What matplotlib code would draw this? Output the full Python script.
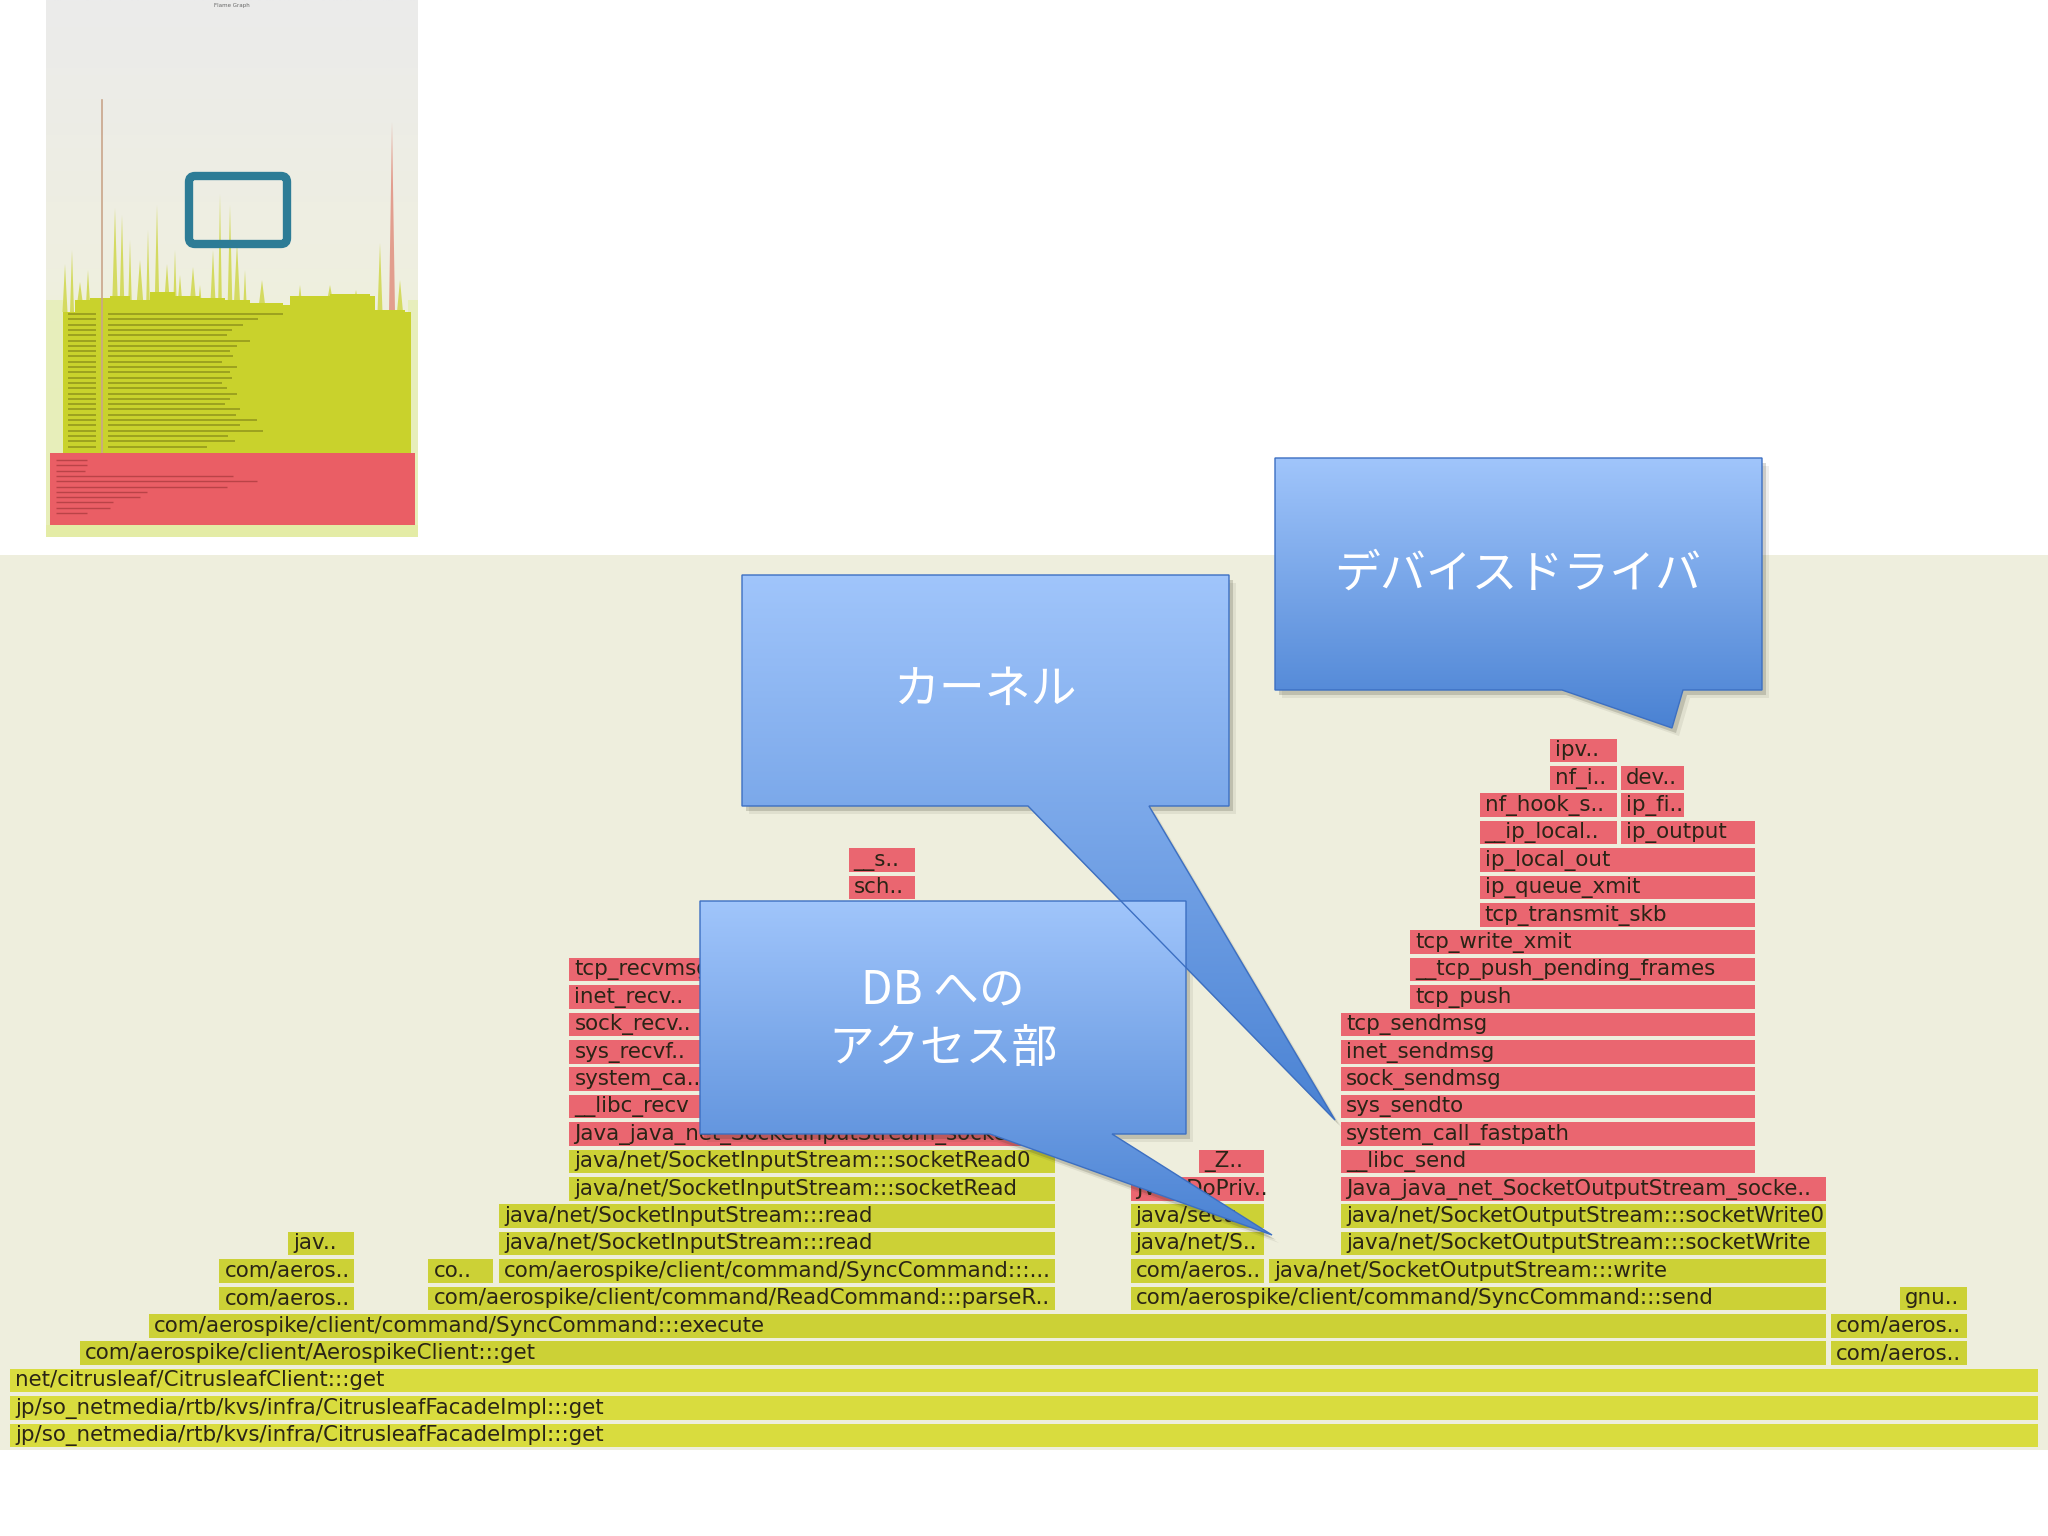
import numpy as np
import matplotlib
matplotlib.use("Agg")
import matplotlib.pyplot as plt
from matplotlib.patches import Polygon, Rectangle, FancyBboxPatch
from matplotlib.colors import LinearSegmentedColormap

plt.rcParams['font.family'] = ['DejaVu Sans', 'Noto Sans CJK JP']

# ---- flame graph frames (x in % of samples, depth = stack level) ----
frame_names = [
    "jp/so_netmedia/rtb/kvs/infra/CitrusleafFacadeImpl:::get",
    "jp/so_netmedia/rtb/kvs/infra/CitrusleafFacadeImpl:::get",
    "net/citrusleaf/CitrusleafClient:::get",
    "com/aerospike/client/AerospikeClient:::get", "com/aeros..",
    "com/aerospike/client/command/SyncCommand:::execute", "com/aeros..",
    "com/aeros..", "com/aerospike/client/command/ReadCommand:::parseR..",
    "com/aerospike/client/command/SyncCommand:::send", "gnu..",
    "com/aeros..", "co..", "com/aerospike/client/command/SyncCommand:::...",
    "com/aeros..", "java/net/SocketOutputStream:::write",
    "jav..", "java/net/SocketInputStream:::read", "java/net/S..",
    "java/net/SocketOutputStream:::socketWrite",
    "java/net/SocketInputStream:::read", "java/secu..",
    "java/net/SocketOutputStream:::socketWrite0",
    "java/net/SocketInputStream:::socketRead", "JVM_DoPriv..",
    "Java_java_net_SocketOutputStream_socke..",
    "java/net/SocketInputStream:::socketRead0", "_Z..", "__libc_send",
    "Java_java_net_SocketInputStream_socke..", "system_call_fastpath",
    "__libc_recv", "sys_sendto",
    "system_ca..", "sock_sendmsg",
    "sys_recvf..", "inet_sendmsg",
    "sock_recv..", "tcp_sendmsg",
    "inet_recv..", "tcp_push",
    "tcp_recvmsg", "__tcp_push_pending_frames",
    "tcp_write_xmit",
    "tcp_transmit_skb",
    "sch..", "ip_queue_xmit",
    "__s..", "ip_local_out",
    "__ip_local..", "ip_output",
    "nf_hook_s..", "ip_fi..",
    "nf_i..", "dev..",
    "ipv..",
]
frame_depth = [0, 1, 2, 3, 3, 4, 4, 5, 5, 5, 5, 6, 6, 6, 6, 6, 7, 7, 7, 7,
               8, 8, 8, 9, 9, 9, 10, 10, 10, 11, 11, 12, 12, 13, 13, 14, 14,
               15, 15, 16, 16, 17, 17, 18, 19, 20, 20, 21, 21, 22, 22, 23, 23,
               24, 24, 25]
frame_start = [0, 0, 0, 3.41, 89.7, 6.82, 89.7, 10.3, 20.6, 55.2, 93.1,
               10.3, 20.6, 24.07, 55.2, 62.03, 13.7, 24.07, 55.2, 65.57,
               24.07, 55.2, 65.57, 27.54, 55.2, 65.57, 27.54, 58.56, 65.57,
               27.54, 65.57, 27.54, 65.57, 27.54, 65.57, 27.54, 65.57,
               27.54, 65.57, 27.54, 68.98, 27.54, 68.98, 68.98, 72.39,
               41.3, 72.39, 41.3, 72.39, 72.39, 79.34, 72.39, 79.34,
               75.87, 79.34, 75.87]
frame_end = [100, 100, 100, 89.58, 96.5, 89.58, 96.5, 17.05, 51.6, 89.58, 96.5,
             17.05, 23.9, 51.6, 61.9, 89.58, 17.05, 51.6, 61.9, 89.58,
             51.6, 61.9, 89.58, 51.6, 61.9, 89.58, 51.6, 61.9, 86.1,
             51.6, 86.1, 34.3, 86.1, 34.3, 86.1, 34.3, 86.1,
             34.3, 86.1, 34.3, 86.1, 34.3, 86.1, 86.1, 86.1,
             44.7, 86.1, 44.7, 86.1, 79.28, 86.1, 79.28, 82.6,
             79.28, 82.6, 79.28]
frame_kind = ['b', 'b', 'b'] + ['j'] * 21 + ['k', 'k', 'j', 'k'] + ['k'] * 28

kind_color = {'b': '#d9dc3e', 'j': '#ccd136', 'k': '#ea6670'}

# ---- thumbnail overview (pixel coords of the inset) ----
thumb_top_x = [63, 75, 90, 110, 130, 150, 175, 200, 225, 250, 283, 290, 330, 370, 375, 405, 411]
thumb_top_y = [312, 300, 298, 296, 300, 292, 296, 298, 300, 303, 305, 296, 294, 296, 310, 312, 312]
thumb_spike_x = [65, 72, 80, 88, 115, 122, 130, 140, 148, 157, 167, 175, 180, 193,
                 200, 213, 220, 230, 237, 245, 262, 300, 330, 356, 380, 400]
thumb_spike_top = [264, 250, 282, 270, 208, 215, 240, 260, 230, 205, 264, 250, 275, 267,
                   285, 250, 194, 205, 243, 270, 280, 285, 285, 290, 243, 280]
thumb_spike_w = [5, 4, 8, 5, 6, 5, 4, 8, 4, 5, 7, 4, 6, 8,
                 5, 6, 4, 5, 7, 4, 8, 6, 10, 8, 5, 6]
thumb_text_end = [283, 258, 243, 232, 227, 250, 237, 230, 233, 222, 237, 230, 232,
                  222, 227, 237, 230, 225, 240, 236, 257, 240, 263, 228, 235, 207]
thumb_red_end = [87, 87, 85, 233, 257, 227, 147, 140, 113, 110, 87]

fig = plt.figure(figsize=(20.48, 15.36), dpi=100)
fig.patch.set_facecolor('white')

# flame graph panel
ax = fig.add_axes([0, 86 / 1536, 1, 895 / 1536])
ax.set_facecolor('#eeeedd')
ax.set_xlim(-0.512, 100.394)
ax.set_ylim(-0.53, 32.13)
for s in ax.spines.values():
    s.set_visible(False)
ax.set_xticks([])
ax.set_yticks([])

starts = np.array(frame_start)
widths = np.array(frame_end) - starts
colors = [kind_color[k] for k in frame_kind]
bars = ax.barh(frame_depth, widths - 0.12, left=starts, height=0.86,
               color=colors, edgecolor='none')
for bar, name, d, x0 in zip(bars, frame_names, frame_depth, starts):
    t = ax.text(x0 + 0.25, d - 0.21, name, fontsize=15.4, color='#2a2416',
                va='baseline', ha='left')
    t.set_clip_path(bar)

# overlay in pixel coordinates
ov = fig.add_axes([0, 0, 1, 1], zorder=5)
ov.set_xlim(0, 2048)
ov.set_ylim(1536, 0)
ov.axis('off')
ov.patch.set_alpha(0)

# --- thumbnail ---
bg = LinearSegmentedColormap.from_list('tb', ['#ebebeb', '#efefe0', '#eef0cc'])
ov.imshow(np.linspace(0, 1, 200).reshape(-1, 1), cmap=bg, aspect='auto',
          extent=[46, 418, 537, 0], zorder=1)
ov.add_patch(Rectangle((46, 300), 17, 237, fc='#e6eeb4', ec='none', alpha=0.8, zorder=1.5))
ov.add_patch(Rectangle((408, 300), 10, 237, fc='#e6eeb4', ec='none', alpha=0.8, zorder=1.5))
ov.add_patch(Rectangle((46, 525), 372, 12, fc='#e4eca6', ec='none', zorder=1.5))
ov.text(232, 6, 'Flame Graph', fontsize=4, color='#666666', ha='center', va='center', zorder=3)

for x, top, w in zip(thumb_spike_x, thumb_spike_top, thumb_spike_w):
    ov.add_patch(Polygon([(x - w / 2, 312), (x, top), (x + w / 2, 312)],
                         fc='#c9d22c', ec='none', alpha=0.7, zorder=2))
ov.plot([102, 102], [100, 453], color='#c9a58a', lw=1.2, zorder=2.2)
ov.add_patch(Polygon([(389, 312), (392, 122), (395, 312)], fc='#e08a7a',
                     ec='none', alpha=0.8, zorder=2))
ov.fill_between(thumb_top_x, thumb_top_y, 455, step='post', color='#c9d22c',
                lw=0, zorder=2.1)
ty = 314 + np.arange(len(thumb_text_end)) * 5.3
ov.hlines(ty, 68, 96, color='#6b6b12', lw=1.1, alpha=0.6, zorder=2.3)
ov.hlines(ty, 108, thumb_text_end, color='#6b6b12', lw=1.1, alpha=0.6, zorder=2.3)
ov.add_patch(Rectangle((50, 453), 365, 72, fc='#ea5e65', ec='none', zorder=2.4))
ry = 460 + np.arange(len(thumb_red_end)) * 5.3
ov.hlines(ry, 56, thumb_red_end, color='#8a2a2a', lw=1.0, alpha=0.5, zorder=2.5)
ov.add_patch(FancyBboxPatch((189, 176), 98, 68, boxstyle='round,pad=0,rounding_size=6',
                            fc='none', ec='#2d7c96', lw=6, zorder=3))


# --- callouts ---
blue = LinearSegmentedColormap.from_list('bl', ['#a0c5fb', '#4a82d3'])


def callout(pts, label, cx, cy):
    pts = np.array(pts, dtype=float)
    for off, a in ((7, 0.08), (4, 0.18)):
        ov.add_patch(Polygon(pts + [off, off + 1], fc='#303020', ec='none',
                             alpha=a, zorder=6))
    shape = Polygon(pts, fc='none', ec='#3c6fc2', lw=1.0, zorder=8)
    ov.add_patch(shape)
    x0, y0 = pts.min(axis=0)
    x1, y1 = pts.max(axis=0)
    im = ov.imshow(np.linspace(0, 1, 300).reshape(-1, 1), cmap=blue, aspect='auto',
                   extent=[x0, x1, y1, y0], zorder=7)
    im.set_clip_path(shape)
    ov.text(cx, cy, label, fontsize=33, color='white', ha='center', va='center',
            family=['Noto Sans CJK JP', 'DejaVu Sans'], linespacing=1.3,
            multialignment='center', zorder=9)


callout([(742, 575), (1229, 575), (1229, 806), (1149, 806), (1335, 1120),
         (1028, 806), (742, 806)], 'カーネル', 986, 690)
callout([(1275, 458), (1762, 458), (1762, 690), (1683, 690), (1672, 728),
         (1562, 690), (1275, 690)], 'デバイスドライバ', 1518, 574)
callout([(700, 901), (1186, 901), (1186, 1134), (1112, 1134), (1272, 1235),
         (990, 1134), (700, 1134)], 'DB への\nアクセス部', 943, 1020)
ov.set_xlim(0, 2048)
ov.set_ylim(1536, 0)

fig.savefig('out.png', dpi=100, facecolor='white')
